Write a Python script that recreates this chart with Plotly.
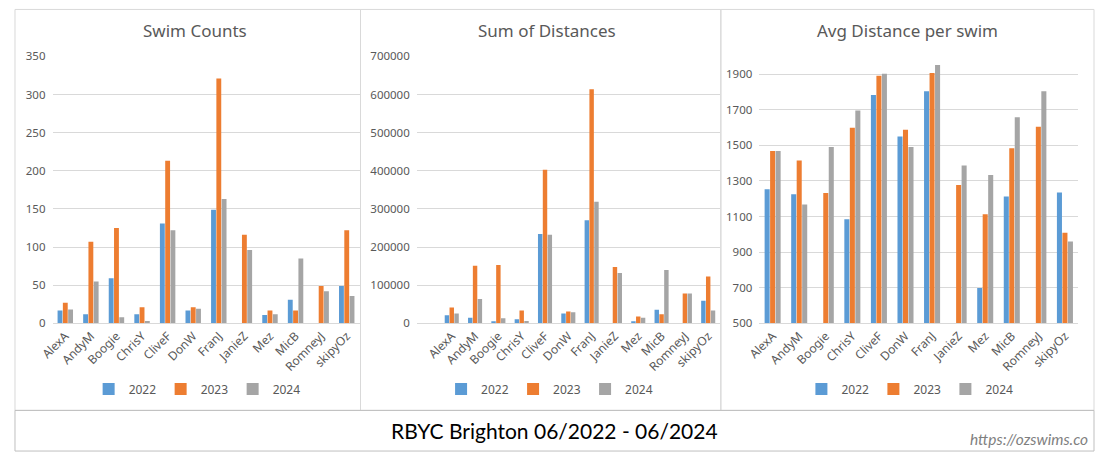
import plotly.graph_objects as go

names = ["AlexA", "AndyM", "Boogie", "ChrisY", "CliveF", "DonW", "FranJ",
         "JanieZ", "Mez", "MicB", "RomneyJ", "skipyOz"]
years = ["2022", "2023", "2024"]

count_2022 = [17, 12, 59, 12, 131, 17, 149, None, 11, 31, None, 49]
count_2023 = [27, 107, 125, 21, 213, 21, 321, 116, 17, 17, 49, 122]
count_2024 = [18, 55, 8, 3, 122, 19, 163, 96, 12, 85, 42, 36]

dist_2022 = [21000, 15000, 3500, 11000, 234000, 26000, 270000, None, 5000, 35600, None, 59000]
dist_2023 = [41500, 151000, 153000, 34000, 403000, 31000, 614000, 148000, 18000, 23700, 78000, 123000]
dist_2024 = [26000, 64000, 13500, 6000, 232000, 29000, 318600, 132000, 15000, 140000, 78000, 34000]

avg_2022 = [1253, 1225, None, 1085, 1783, 1550, 1804, None, 699, 1213, None, 1235]
avg_2023 = [1469, 1415, 1232, 1599, 1891, 1588, 1907, 1277, 1113, 1484, 1604, 1009]
avg_2024 = [1469, 1168, 1491, 1696, 1902, 1491, 1951, 1387, 1333, 1658, 1804, 960]

titles = ["Swim Counts", "Sum of Distances", "Avg Distance per swim"]
footer = "RBYC Brighton 06/2022 - 06/2024"
site = "https://ozswims.co"

colors = ["#5B9BD5", "#ED7D31", "#A5A5A5"]
W, H = 1095, 459
TXT = "#595959"
GRID = "#D9D9D9"
FONT = "Noto Sans"


def px(x):
    return x / W


def py(y):
    return 1 - y / H


fig = go.Figure()
panels = [
    (count_2022, count_2023, count_2024),
    (dist_2022, dist_2023, dist_2024),
    (avg_2022, avg_2023, avg_2024),
]
legend_ids = ["legend", "legend2", "legend3"]
for i, series in enumerate(panels):
    for j, vals in enumerate(series):
        fig.add_trace(go.Bar(
            x=names, y=vals, name=years[j], marker_color=colors[j],
            marker_line_width=0,
            xaxis="x" if i == 0 else f"x{i+1}",
            yaxis="y" if i == 0 else f"y{i+1}",
            legend=legend_ids[i],
            legendgroup=f"p{i}",
        ))

x_domains = [(39, 350), (408, 715), (755, 1078)]
x_ranges = [[-0.5, 11.5], [-1.5, 11.5], [-0.5, 11.5]]
y_ranges = [[0, 350], [0, 700000], [500, 2000]]
y_dticks = [50, 100000, 200]
y_tick0 = [0, 0, 500]
legend_x = [185, 542, 907]
title_x = [183, 540, 905]

layout = dict(
    width=W, height=H,
    margin=dict(l=0, r=0, t=0, b=0),
    paper_bgcolor="white", plot_bgcolor="white",
    barmode="group", bargap=0.38, bargroupgap=0.08,
    font=dict(family=FONT, color=TXT, size=11),
    showlegend=True,
)
for i in range(3):
    sx = "" if i == 0 else str(i + 1)
    layout[f"xaxis{sx}"] = dict(
        domain=[px(x_domains[i][0]), px(x_domains[i][1])],
        anchor=f"y{sx}", type="category", range=x_ranges[i],
        tickangle=-45, showgrid=False, showline=True, linecolor=GRID,
        linewidth=1, ticks="", tickfont=dict(family=FONT, size=12, color=TXT),
        fixedrange=True,
    )
    layout[f"yaxis{sx}"] = dict(
        domain=[py(326), py(50)], anchor=f"x{sx}",
        range=y_ranges[i], dtick=y_dticks[i], tick0=y_tick0[i],
        showgrid=True, gridcolor=GRID, gridwidth=1, zeroline=False,
        showline=False, ticks="", tickformat="d", ticklabelstandoff=6,
        tickfont=dict(family=FONT, size=11.5, color=TXT),
    )
    layout[legend_ids[i]] = dict(
        orientation="h", x=px(legend_x[i]), y=py(394), xanchor="center",
        yanchor="middle", font=dict(family=FONT, size=12, color=TXT),
        bgcolor="rgba(0,0,0,0)", itemwidth=30, entrywidth=27,
        traceorder="normal",
    )

fig.update_layout(**layout)

annotations = []
for i in range(3):
    annotations.append(dict(
        text=titles[i], x=px(title_x[i]), y=py(23), xref="paper", yref="paper",
        xanchor="center", yanchor="middle", showarrow=False,
        font=dict(family=FONT, size=17, color=TXT),
    ))
annotations.append(dict(
    text=footer, x=px(548), y=py(437), xref="paper", yref="paper",
    xanchor="center", yanchor="middle", showarrow=False,
    font=dict(family="Lato", size=21, color="#000000"),
))
annotations.append(dict(
    text=f"<i>{site}</i>", x=px(1090), y=py(446), xref="paper", yref="paper",
    xanchor="right", yanchor="middle", showarrow=False,
    font=dict(family="Lato", size=15.5, color="#7F7F7F"),
))

shapes = []
border = dict(color="#D9D9D9", width=1)
for (x0, x1) in [(1, 351), (351, 716), (716, 1094)]:
    shapes.append(dict(type="rect", xref="paper", yref="paper",
                       x0=px(x0), x1=px(x1), y0=py(416), y1=py(1.5),
                       line=border, layer="below"))
shapes.append(dict(type="rect", xref="paper", yref="paper",
                   x0=px(1), x1=px(1094), y0=py(458), y1=py(416),
                   line=dict(color="#BFBFBF", width=1), layer="below"))

fig.update_layout(annotations=annotations, shapes=shapes)
fig.write_html("out.html")
